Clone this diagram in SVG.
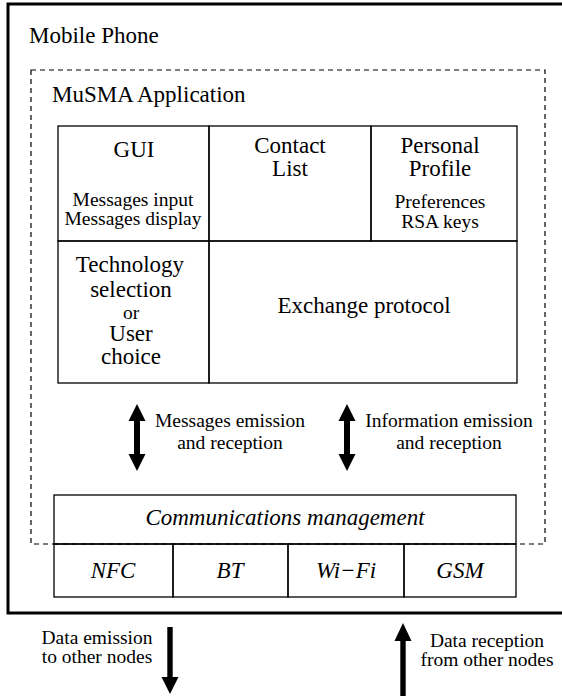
<svg xmlns="http://www.w3.org/2000/svg" width="562" height="696" viewBox="0 0 562 696">
  <style>
    text { font-family: "Liberation Serif", "Times New Roman", Times, "Nimbus Roman", Tinos, "Noto Serif", "DejaVu Serif", serif; fill: #000; }
    .big { font-size: 23px; }
    .small { font-size: 19.5px; }
    .it { font-style: italic; }
    .mid { text-anchor: middle; }
    .box { fill: none; stroke: #000; stroke-width: 1.3; }
    .arrow { fill: #000; stroke: none; }
  </style>
  <rect width="562" height="696" fill="#fff"/>

  <!-- device frame -->
  <g id="mobile-phone">
    <rect x="8" y="4" width="562" height="609" fill="none" stroke="#000" stroke-width="3"/>
    <text class="big" x="29" y="43">Mobile Phone</text>
  </g>

  <!-- application boundary -->
  <g id="musma-app">
    <rect x="31" y="70" width="514" height="474" fill="none" stroke="#000" stroke-width="1.2" stroke-dasharray="5,4"/>
    <text class="big" x="52" y="102">MuSMA Application</text>
  </g>

  <g id="gui">
    <rect class="box" x="58" y="126" width="151" height="115"/>
    <text class="big mid" x="134" y="157">GUI</text>
    <text class="small mid" x="133" y="206">Messages input</text>
    <text class="small mid" x="133" y="225">Messages display</text>
  </g>

  <g id="contact-list">
    <rect class="box" x="209" y="126" width="162" height="115"/>
    <text class="big mid" x="290" y="153">Contact</text>
    <text class="big mid" x="290" y="176">List</text>
  </g>

  <g id="personal-profile">
    <rect class="box" x="371" y="126" width="146" height="115"/>
    <text class="big mid" x="440" y="153">Personal</text>
    <text class="big mid" x="440" y="176">Profile</text>
    <text class="small mid" x="440" y="208">Preferences</text>
    <text class="small mid" x="440" y="228">RSA keys</text>
  </g>

  <g id="technology-selection">
    <rect class="box" x="58" y="241" width="151" height="142"/>
    <text class="big mid" x="130" y="272">Technology</text>
    <text class="big mid" x="131" y="297">selection</text>
    <text class="small mid" x="131" y="319">or</text>
    <text class="big mid" x="131" y="341">User</text>
    <text class="big mid" x="131" y="364">choice</text>
  </g>

  <g id="exchange-protocol">
    <rect class="box" x="209" y="241" width="308" height="142"/>
    <text class="big mid" x="364" y="313">Exchange protocol</text>
  </g>

  <g id="communications">
    <rect x="54" y="495" width="462" height="102" fill="#fff" stroke="none"/>
    <rect class="box" x="54" y="495" width="462" height="49"/>
    <text class="big it mid" x="285" y="525">Communications management</text>
  </g>

  <g id="nfc">
    <rect class="box" x="54" y="544" width="119" height="53"/>
    <text class="big it mid" x="113" y="578">NFC</text>
  </g>
  <g id="bt">
    <rect class="box" x="173" y="544" width="115" height="53"/>
    <text class="big it mid" x="230" y="578">BT</text>
  </g>
  <g id="wifi">
    <rect class="box" x="288" y="544" width="116" height="53"/>
    <text class="big it mid" x="346" y="578">Wi−Fi</text>
  </g>
  <g id="gsm">
    <rect class="box" x="404" y="544" width="112" height="53"/>
    <text class="big it mid" x="460" y="578">GSM</text>
  </g>

  <!-- the dashed boundary runs across the communications block -->
  <line x1="54" y1="544" x2="516" y2="544" stroke="#000" stroke-width="1.2" stroke-dasharray="5,4"/>

  <g id="connectors">
    <!-- double arrow: messages -->
    <polygon class="arrow" points="137,404 145.5,421 140,421 140,454 145.5,454 137,471 128.5,454 134,454 134,421 128.5,421"/>
    <!-- double arrow: information -->
    <polygon class="arrow" points="347,404 355.5,421 350,421 350,454 355.5,454 347,471 338.5,454 344,454 344,421 338.5,421"/>
    <!-- outgoing data -->
    <polygon class="arrow" points="167.3,627 172.7,627 172.7,677 178.5,677 170,694 161.5,677 167.3,677"/>
    <!-- incoming data -->
    <polygon class="arrow" points="403,623 411.5,641 405.7,641 405.7,696 400.3,696 400.3,641 394.5,641"/>
  </g>

  <g id="labels">
    <text class="small mid" x="230" y="427">Messages emission</text>
    <text class="small mid" x="230" y="449">and reception</text>
    <text class="small mid" x="449" y="427">Information emission</text>
    <text class="small mid" x="449" y="449">and reception</text>
    <text class="small mid" x="97" y="644">Data emission</text>
    <text class="small mid" x="97" y="663">to other nodes</text>
    <text class="small mid" x="487" y="647">Data reception</text>
    <text class="small mid" x="487" y="666">from other nodes</text>
  </g>
</svg>
